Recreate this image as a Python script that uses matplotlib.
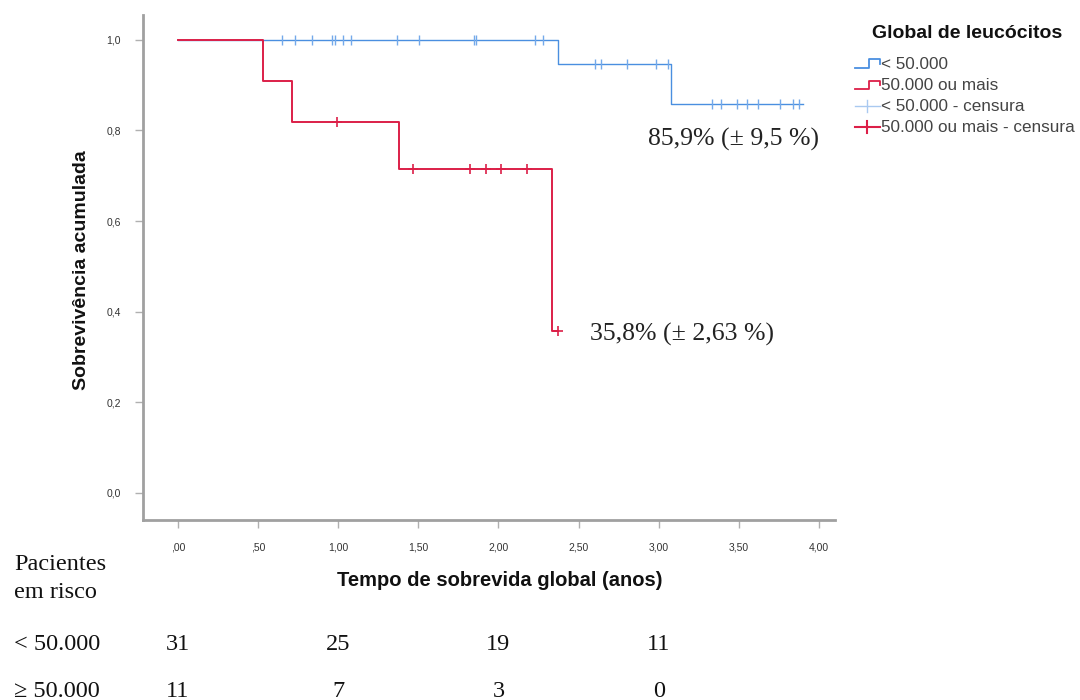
import matplotlib
matplotlib.use("Agg")
import matplotlib.pyplot as plt
import numpy as np
from matplotlib.lines import Line2D
from matplotlib.legend_handler import HandlerBase

# ---------------- data ----------------
blue_step_times = [0.0, 2.37, 3.075]
blue_surv = [1.0, 0.946, 0.859]
blue_end = 3.90
blue_censor = [0.647, 0.73, 0.835, 0.963, 0.98, 1.03, 1.08, 1.37, 1.505, 1.85,
               1.86, 2.23, 2.28, 2.60, 2.64, 2.80, 2.98, 3.055, 3.335, 3.39,
               3.49, 3.55, 3.62, 3.755, 3.84, 3.875]

red_step_times = [0.0, 0.528, 0.709, 1.38, 2.335]
red_surv = [1.0, 0.909, 0.818, 0.716, 0.358]
red_end = 2.37
red_censor = [0.99, 1.464, 1.82, 1.92, 2.015, 2.175, 2.37]

x_ticks = [0, 0.5, 1.0, 1.5, 2.0, 2.5, 3.0, 3.5, 4.0]
x_ticklabels = [",00", ",50", "1,00", "1,50", "2,00", "2,50", "3,00", "3,50", "4,00"]
y_ticks = [0.0, 0.2, 0.4, 0.6, 0.8, 1.0]
y_ticklabels = ["0,0", "0,2", "0,4", "0,6", "0,8", "1,0"]

risk_times = [0, 1, 2, 3]
risk_groups = ["< 50.000", "\u2265 50.000"]
risk_low = [31, 25, 19, 11]
risk_high = [11, 7, 3, 0]

legend_title = "Global de leucócitos"
legend_labels = ["< 50.000", "50.000 ou mais", "< 50.000 - censura", "50.000 ou mais - censura"]
ann_blue = "85,9% (\u00b1 9,5 %)"
ann_red = "35,8% (\u00b1 2,63 %)"

BLUE = "#4a8fe0"
BLUE_CENS = "#74a9ea"
BLUE_LIGHT = "#a9c9f0"
RED = "#dc1f48"

W, H = 1080, 700
fig = plt.figure(figsize=(W / 100, H / 100), dpi=100)
ax = fig.add_axes([143 / W, 1 - 520 / H, (835 - 143) / W, (520 - 15) / H])


def step_curve(times, surv, end):
    xs = list(times) + [end]
    ys = list(surv) + [surv[-1]]
    return xs, ys


def surv_at(t, times, surv):
    idx = np.searchsorted(times, t, side="right") - 1
    return surv[idx]


bx, by = step_curve(blue_step_times, blue_surv, blue_end)
ax.step(bx, by, where="post", color=BLUE, lw=1.0, zorder=2)
ax.plot(blue_censor, [surv_at(t, blue_step_times, blue_surv) for t in blue_censor],
        ls="none", marker="|", ms=7, mew=1.0, color=BLUE_CENS, zorder=3)

rx, ry = step_curve(red_step_times, red_surv, red_end)
ax.step(rx, ry, where="post", color=RED, lw=1.4, zorder=4)
ax.plot(red_censor, [surv_at(t, red_step_times, red_surv) for t in red_censor],
        ls="none", marker="+", ms=7, mew=1.2, color=RED, zorder=5)

ax.set_xlim(-0.218, 4.10)
ax.set_ylim(-0.06, 1.055)
ax.set_xticks(x_ticks)
ax.set_xticklabels(x_ticklabels)
ax.set_yticks(y_ticks)
ax.set_yticklabels(y_ticklabels)
for s in ["top", "right"]:
    ax.spines[s].set_visible(False)
for s in ["left", "bottom"]:
    ax.spines[s].set_color("#a0a0a0")
    ax.spines[s].set_linewidth(2)
ax.tick_params(axis="both", colors="#b0b0b0", length=6, width=1, labelcolor="#333333",
               labelsize=7.5, pad=10)
for lab in ax.get_xticklabels() + ax.get_yticklabels():
    lab.set_family("Liberation Sans")

ax.set_xlabel("Tempo de sobrevida global (anos)", family="Liberation Sans",
              fontweight="bold", fontsize=14.5, color="#111111", va="center")
ax.xaxis.set_label_coords((500 - 143) / 692, (520 - 581) / 505)
ax.set_ylabel("Sobrevivência acumulada", family="Liberation Sans",
              fontweight="bold", fontsize=14, color="#111111", va="center")
ax.yaxis.set_label_coords((81 - 143) / 692, (520 - 270) / 505)

ax.text(2.932, 0.766, ann_blue, family="Liberation Serif", fontsize=18.5,
        color="#222222", ha="left", va="baseline")
ax.text(2.57, 0.3355, ann_red, family="Liberation Serif", fontsize=18.5,
        color="#222222", ha="left", va="baseline")


# ---------------- legend ----------------
class StepHandler(HandlerBase):
    def create_artists(self, legend, orig_handle, xdescent, ydescent, width, height,
                       fontsize, trans):
        x0 = -xdescent
        y0 = -ydescent
        xs = [x0, x0 + 0.55 * width, x0 + 0.55 * width, x0 + width, x0 + width]
        ys = [y0 + 0.1 * height, y0 + 0.1 * height, y0 + 0.8 * height,
              y0 + 0.8 * height, y0 + 0.45 * height]
        ln = Line2D(xs, ys, color=orig_handle.get_color(), lw=1.3, transform=trans)
        return [ln]


class CrossHandler(HandlerBase):
    def create_artists(self, legend, orig_handle, xdescent, ydescent, width, height,
                       fontsize, trans):
        x0 = -xdescent
        y0 = -ydescent
        h = Line2D([x0, x0 + width], [y0 + 0.45 * height] * 2,
                   color=orig_handle.get_color(), lw=orig_handle.get_linewidth(),
                   transform=trans)
        v = Line2D([x0 + 0.5 * width] * 2, [y0 - 0.05 * height, y0 + 0.95 * height],
                   color=orig_handle.get_color(), lw=orig_handle.get_linewidth(),
                   transform=trans)
        return [h, v]


h1 = Line2D([], [], color=BLUE)
h2 = Line2D([], [], color=RED)
h3 = Line2D([], [], color=BLUE_LIGHT, lw=1.0)
h4 = Line2D([], [], color=RED, lw=1.5)
fig.text(967 / W, 1 - 33 / H, legend_title, family="Liberation Sans",
         fontweight="bold", fontsize=14, color="#111111", ha="center", va="center")
leg = fig.legend([h1, h2, h3, h4], legend_labels,
                 handler_map={h1: StepHandler(), h2: StepHandler(),
                              h3: CrossHandler(), h4: CrossHandler()},
                 loc="upper left", bbox_to_anchor=(855 / W, 1 - 57 / H),
                 frameon=False, prop={"family": "Liberation Sans", "size": 12.3},
                 handlelength=1.45, handletextpad=0.05, labelspacing=0.36,
                 borderpad=0, borderaxespad=0)
for t in leg.get_texts():
    t.set_color("#444444")

# ---------------- at-risk table ----------------
TS = 17.5
fig.text(14 / W, 1 - 570 / H, "Pacientes", family="Liberation Serif",
         fontsize=TS, color="#111111", ha="left", va="baseline")
fig.text(14 / W, 1 - 598 / H, "em risco", family="Liberation Serif",
         fontsize=TS, color="#111111", ha="left", va="baseline")
row_y = [650, 697]
for gi, (grp, vals) in enumerate(zip(risk_groups, [risk_low, risk_high])):
    yfig = 1 - row_y[gi] / H
    fig.text(14 / W, yfig, grp, family="Liberation Serif", fontsize=TS,
             color="#111111", ha="left", va="baseline")
    for t, v in zip(risk_times, vals):
        xfig = ax.transData.transform((t, 0))[0] / W
        fig.text(xfig, yfig, str(v), family="Liberation Serif", fontsize=TS,
                 color="#111111", ha="center", va="baseline")

fig.savefig("out.png", dpi=100)
